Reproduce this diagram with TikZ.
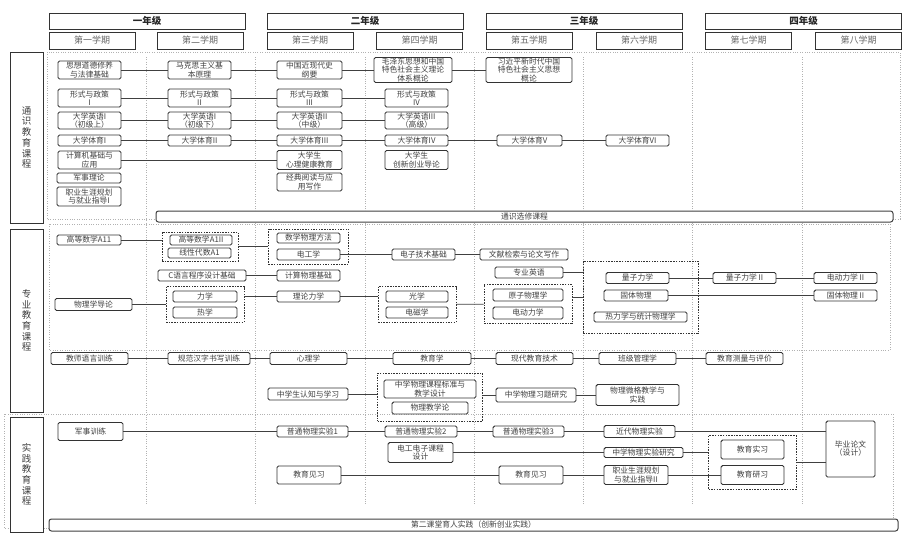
\documentclass[tikz,border=0pt]{standalone}
\usepackage{fontspec}
\setmainfont{Noto Sans CJK SC}
\usetikzlibrary{fit}

\tikzset{
	course/.style={draw=black!80,line width=0.9pt,rounded corners=1.6pt,fill=white,text=black!75,align=center,
		inner xsep=1pt,inner ysep=0.5pt,minimum width=#1,minimum height=11,font=\fontsize{7.8}{8.1}\selectfont},
	tall/.style={minimum height=#1},
	yearbox/.style={draw=black!80,line width=1pt,fill=white,minimum width=196,minimum height=16,text=black!85,
		font=\bfseries\fontsize{9.5}{10}\selectfont},
	sembox/.style={draw=black!80,line width=1pt,fill=white,minimum width=86,minimum height=17,text=black!60,
		font=\fontsize{9}{10}\selectfont},
	sidebox/.style={draw=black!80,line width=1pt,fill=white,minimum width=33,align=center,text=black!75,
		font=\fontsize{9.5}{10.7}\selectfont},
	bar/.style={draw=black!75,line width=1pt,rounded corners=2.5pt,fill=white,text=black!75,minimum height=11,
		inner sep=0pt,font=\fontsize{7.8}{8}\selectfont},
	frame/.style={draw=black!30,line width=0.6pt,dash pattern=on 0.8pt off 1.6pt},
	grp/.style={draw=black!80,line width=0.9pt,dash pattern=on 1.5pt off 1.2pt},
	link/.style={draw=black!75,line width=0.8pt}
}

\begin{document}
\begin{tikzpicture}[x=1pt,y=-1pt]
	\useasboundingbox (0,0) rectangle (909,546);
	
	% dotted frames and columns
	\draw[frame] (47,52) rectangle (900,219);
	\draw[frame] (49,224) rectangle (890,350);
	\draw[frame] (4,414) rectangle (893,528);
	\foreach \x in {146,255,365,474,583,692,802}
		\draw[frame] (\x,57) -- (\x,505);
	
	% header
	\foreach \i/\x/\t in {1/147/一年级,2/365/二年级,3/584/三年级,4/803.5/四年级}
		\node[yearbox] (yr\i) at (\x,21) {\t};
	\foreach \i/\x/\t in {1/92/第一学期,2/200/第二学期,3/310/第三学期,4/419.5/第四学期,5/529/第五学期,6/639/第六学期,7/748.5/第七学期,8/858.5/第八学期}
		\node[sembox] (sem\i) at (\x,40.5) {\t};
	
	\node[sidebox,minimum height=171] (lab1) at (26.5,137.5) {通\\识\\教\\育\\课\\程};
	\node[sidebox,minimum height=183] (lab2) at (26.5,320.5) {专\\业\\教\\育\\课\\程};
	\node[sidebox,minimum height=115] (lab3) at (26.5,474.5) {实\\践\\教\\育\\课\\程};
	
	% general courses
	\node[course=63,tall=18] (sx) at (89.5,70) {思想道德修养\\与法律基础};
	\node[course=63,tall=18] (mk) at (199.5,70) {马克思主义基\\本原理};
	\node[course=65,tall=18] (zg) at (309.5,70) {中国近现代史\\纲要};
	\node[course=78,tall=25] (mz) at (413,70) {毛泽东思想和中国\\特色社会主义理论\\体系概论};
	\node[course=86,tall=25] (xj) at (529,70) {习近平新时代中国\\特色社会主义思想\\概论};
	\foreach \i/\x/\w/\t in {1/89.5/63/I,2/199.5/63/II,3/309.5/65/III,4/416.5/63/IV}
		\node[course=\w,tall=18] (xc\i) at (\x,98) {形式与政策\\\t};
	\node[course=63,tall=17] (yy1) at (89.5,120.5) {大学英语I\\（初级上）};
	\node[course=63,tall=17] (yy2) at (199.5,120.5) {大学英语I\\（初级下）};
	\node[course=65,tall=17] (yy3) at (309.5,120.5) {大学英语II\\（中级）};
	\node[course=63,tall=17] (yy4) at (416.5,120.5) {大学英语III\\（高级）};
	\foreach \i/\x/\w/\t in {1/89.5/63/I,2/199.5/63/II,3/309.5/65/III,4/416.5/63/IV,5/529.5/65/V,6/637.5/63/VI}
		\node[course=\w] (ty\i) at (\x,140.5) {大学体育\t};
	\node[course=63,tall=18] (jsj) at (89.5,160) {计算机基础与\\应用};
	\node[course=65,tall=19] (xl) at (309.5,160) {大学生\\心理健康教育};
	\node[course=63,tall=19] (cx) at (416.5,160) {大学生\\创新创业导论};
	\node[course=64,tall=10] (js) at (89,178) {军事理论};
	\node[course=64,tall=19] (zy1) at (89,196.5) {职业生涯规划\\与就业指导I};
	\node[course=65,tall=18] (jd) at (309.5,182) {经典阅读与应\\用写作};
	\node[bar,minimum width=737] (tx) at (524.5,216.5) {通识选修课程};
	
	% professional courses
	\node[course=64,tall=10] (gs1) at (89,240) {高等数学A11};
	\node[course=62,tall=10] (gs2) at (201,240) {高等数学A1II};
	\node[course=63,tall=10] (xd) at (199.5,253) {线性代数A1};
	\node[course=63,tall=10] (sw) at (308.5,238) {数学物理方法};
	\node[course=63] (dg) at (308.5,254.5) {电工学};
	\node[course=63] (dz) at (423.5,254.5) {电子技术基础};
	\node[course=88] (wx) at (524,254.5) {文献检索与论文写作};
	\node[course=88] (cy) at (202,275.5) {C语言程序设计基础};
	\node[course=63] (jw) at (308.5,275.5) {计算物理基础};
	\node[course=68] (zyy) at (529,272.5) {专业英语};
	\node[course=64] (lx) at (205,296.5) {力学};
	\node[course=64] (rx) at (205,312.5) {热学};
	\node[course=77,tall=12] (dl) at (93.5,304.5) {物理学导论};
	\node[course=63] (ll) at (308.5,296.5) {理论力学};
	\node[course=62] (gx) at (417,296.5) {光学};
	\node[course=62] (dc) at (417,312.5) {电磁学};
	\node[course=70,tall=12] (yz) at (528,295) {原子物理学};
	\node[course=70,tall=12] (dd) at (528,313) {电动力学};
	\node[course=63] (lz) at (637.5,278) {量子力学};
	\node[course=64] (gt) at (636,295.5) {固体物理};
	\node[course=93,tall=10] (rt) at (640.5,317) {热力学与统计物理学};
	\node[course=63] (lz2) at (744.5,278) {量子力学 II};
	\node[course=63] (dd2) at (845.5,278) {电动力学 II};
	\node[course=63] (gt2) at (845.5,295.5) {固体物理 II};
	
	\node[course=77,tall=12] (yyx) at (89.5,358.5) {教师语言训练};
	\node[course=82,tall=12] (hz) at (209,358.5) {规范汉字书写训练};
	\node[course=77,tall=12] (xlx) at (308.5,358.5) {心理学};
	\node[course=78,tall=12] (jyx) at (432,358.5) {教育学};
	\node[course=77,tall=12] (xdjs) at (534.5,358.5) {现代教育技术};
	\node[course=77,tall=12] (bj) at (637.5,358.5) {班级管理学};
	\node[course=77,tall=12] (cl) at (744.5,358.5) {教育测量与评价};
	\node[course=80,tall=12] (rz) at (308,394) {中学生认知与学习};
	\node[course=92,tall=18] (kb) at (430,389) {中学物理课程标准与\\教学设计};
	\node[course=76,tall=12] (jxl) at (430,408) {物理教学论};
	\node[course=80,tall=14] (xt) at (536,395) {中学物理习题研究};
	\node[course=83,tall=21] (wg) at (637.5,395) {物理微格教学与\\实践};
	
	% practice courses
	\node[course=65,tall=18] (jx) at (90.5,431.5) {军事训练};
	\node[course=71] (sy1) at (312.5,431.5) {普通物理实验1};
	\node[course=72] (sy2) at (421,431.5) {普通物理实验2};
	\node[course=71] (sy3) at (528.5,431.5) {普通物理实验3};
	\node[course=71,tall=12] (jdsy) at (639.5,431.5) {近代物理实验};
	\node[course=49,tall=56] (bylw) at (850.5,449) {毕业论文\\（设计）};
	\node[course=65,tall=20] (dgsj) at (420.5,452.5) {电工电子课程\\设计};
	\node[course=79,tall=10] (sysy) at (643.5,452.5) {中学物理实验研究};
	\node[course=63,tall=19] (sx1) at (752.5,449.5) {教育实习};
	\node[course=63,tall=19] (yx) at (752.5,475) {教育研习};
	\node[course=64,tall=19] (zy2) at (636,475) {职业生涯规划\\与就业指导II};
	\node[course=64,tall=18] (jx1) at (309,475) {教育见习};
	\node[course=64,tall=18] (jx2) at (531,475) {教育见习};
	\node[bar,minimum width=849,minimum height=12] (dk) at (473.5,525) {第二课堂育人实践（创新创业实践）};
	
	% groups
	\node[grp,fit=(gs2)(xd),inner xsep=5.5,inner ysep=2.5] (g1) {};
	\node[grp,fit=(sw)(dg),inner xsep=8,inner ysep=3.5] (g2) {};
	\node[grp,fit=(lx)(rx),inner xsep=6.5,inner ysep=4] (g3) {};
	\node[grp,fit=(gx)(dc),inner xsep=7.5,inner ysep=4] (g4) {};
	\node[grp,fit=(yz)(dd),inner xsep=8.5,inner ysep=4] (g5) {};
	\node[grp,fit=(lz)(gt)(rt),inner xsep=10.5,inner ysep=11] (g6) {};
	\node[grp,fit=(kb)(jxl),inner xsep=6,inner ysep=6.5] (g7) {};
	\node[grp,fit=(sx1)(yx),inner xsep=12,inner ysep=4] (g8) {};
	
	% connectors
	\foreach \a/\b in {sx/mk,mk/zg,zg/mz,mz/xj,xc1/xc2,xc2/xc3,xc3/xc4,yy1/yy2,yy2/yy3,yy3/yy4,
		ty1/ty2,ty2/ty3,ty3/ty4,ty4/ty5,ty5/ty6,jsj/xl,g1/g2,dg/dz,dz/wx,cy/jw,dl/g3,g4/g5,lz/lz2,lz2/dd2,gt/gt2,
		yyx/hz,hz/xlx,xlx/jyx,jyx/xdjs,xdjs/bj,bj/cl,xt/wg,jx/sy1,sy1/sy2,sy2/sy3,sy3/jdsy,dgsj/sysy,
		jx1/jx2,jx2/zy2,zy2/yx}
		\draw[link] (\a) -- (\b);
	\draw[link] (gs1) -- (gs1 -| g1.west);
	\draw[link] (g3.east |- ll) -- (ll);
	\draw[link] (ll) -- (ll -| g4.west);
	\draw[link] (zyy) -- (zyy -| g6.west);
	\draw[link] (g6.west -| g5.east) -- (g6.west);
	\draw[link] (rz) -- (rz -| g7.west);
	\draw[link] (xt -| g7.east) -- (xt);
	\draw[link] (jdsy) -- (jdsy -| bylw.west);
	\draw[link] (sysy) -- (sysy -| g8.west);
	\draw[link] (g8) -- (g8 -| bylw.west);
\end{tikzpicture}
\end{document}
